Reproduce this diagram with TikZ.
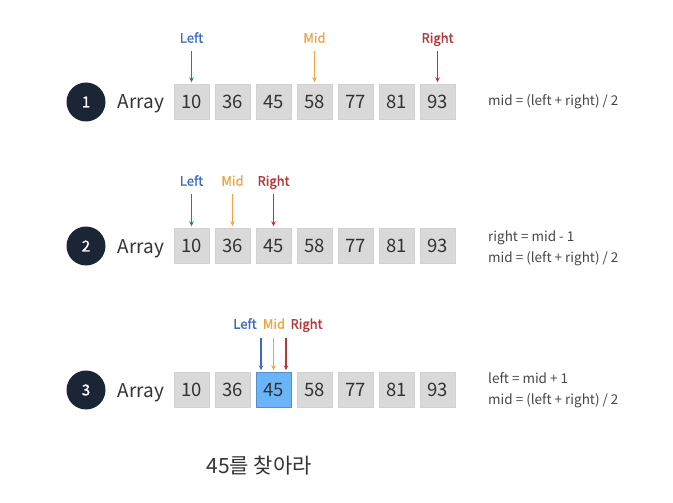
\documentclass[tikz,border=0pt]{standalone}
\usepackage{fontspec}
\setmainfont{Noto Sans CJK KR}
\newfontfamily\semibold{Noto Sans CJK KR}[FakeBold=1.3]
\usetikzlibrary{arrows.meta}
\definecolor{ink}{HTML}{333333}
\definecolor{navy-dot}{HTML}{1C2536}
\definecolor{cell-bg}{HTML}{D9D9D9}
\definecolor{hit-bg}{HTML}{6AB4F8}
\definecolor{ptr-left}{HTML}{3A6CC0}
\definecolor{ptr-mid}{HTML}{F2A444}
\definecolor{ptr-right}{HTML}{B23A3C}

\tikzset{
  numdot/.style={circle, fill=navy-dot, minimum size=39pt, inner sep=0pt,
                 text=white, font=\semibold\fontsize{15}{17}\selectfont},
  arraylbl/.style={text=ink, text height=14pt, text depth=0pt,
                   font=\fontsize{19}{21}\selectfont},
  cell/.style={draw=gray!35, fill=cell-bg, minimum width=35pt, minimum height=35pt,
               inner sep=0pt, text height=13pt, text depth=0pt, text=ink,
               font=\fontsize{18.5}{20}\selectfont},
  hitcell/.style={fill=hit-bg, draw=hit-bg!80!black},
  ptr/.style={inner sep=1pt, text height=9.5pt, text depth=0pt,
              font=\semibold\fontsize{13}{15}\selectfont},
  ptrarrow/.style={line width=1.1pt, -{Stealth[length=5pt,width=4.5pt]}},
  formula/.style={anchor=west, align=left, inner sep=0pt, text=ink!90,
                  font=\fontsize{13.5}{21}\selectfont},
}

\begin{document}
\begin{tikzpicture}[x=1pt, y=-1pt]
    % Diagram: binary search for 45, three steps.
    % Coordinates in px of the 673x503 frame, y grows downwards:
    %   step rows at y=102, 246, 390; cells 35x35, pitch 41, first at x=191.5
    %   pointer labels 64 above the row, arrows from y-50 to y-20
    %   formulas start at x=488
    \useasboundingbox (0,0) rectangle (673,503);

    \foreach \r/\y in {1/102, 2/246, 3/390} {
      \node[numdot] (n\r) at (86,\y) {\r};
      \node[arraylbl] (a\r) at (141,\y) {Array};
      \foreach \v [count=\i] in {10,36,45,58,77,81,93}
        \node[cell] (c\r-\i) at ({191.5+41*(\i-1)},\y) {\v};
    }
    \node[cell, hitcell] (hit) at (c3-3) {45};

    % step 1
    \node[ptr, text=ptr-left] (l1) at (191.5,38) {Left};
    \node[ptr, text=ptr-mid] (m1) at (314.5,38) {Mid};
    \node[ptr, text=ptr-right] (r1) at (437.5,38) {Right};
    \draw[ptrarrow, ptr-left] (l1) -- (c1-1) [shorten <=7pt, shorten >=2pt];
    \draw[ptrarrow, ptr-mid] (m1) -- (c1-4) [shorten <=7pt, shorten >=2pt];
    \draw[ptrarrow, ptr-right] (r1) -- (c1-7) [shorten <=7pt, shorten >=2pt];
    \node[formula] (f1) at (488,102) {mid = (left + right) / 2};

    % step 2
    \node[ptr, text=ptr-left] (l2) at (191.5,181) {Left};
    \node[ptr, text=ptr-mid] (m2) at (232.5,181) {Mid};
    \node[ptr, text=ptr-right] (r2) at (273.5,181) {Right};
    \draw[ptrarrow, ptr-left] (l2) -- (c2-1) [shorten <=7pt, shorten >=2pt];
    \draw[ptrarrow, ptr-mid] (m2) -- (c2-2) [shorten <=7pt, shorten >=2pt];
    \draw[ptrarrow, ptr-right] (r2) -- (c2-3) [shorten <=7pt, shorten >=2pt];
    \node[formula] (f2) at (488,248) {right = mid - 1\\mid = (left + right) / 2};

    % step 3
    \node[ptr, text=ptr-left] (l3) at (245,324) {Left};
    \node[ptr, text=ptr-mid] (m3) at (274,324) {Mid};
    \node[ptr, text=ptr-right] (r3) at (306.5,324) {Right};
    \coordinate (s3l) at (261,338);
    \coordinate (s3m) at (273.5,338);
    \coordinate (s3r) at (286,338);
    \draw[ptrarrow, ptr-left] (s3l) -- (s3l |- hit.north) [shorten >=2pt];
    \draw[ptrarrow, ptr-mid] (s3m) -- (s3m |- hit.north) [shorten >=2pt];
    \draw[ptrarrow, ptr-right] (s3r) -- (s3r |- hit.north) [shorten >=2pt];
    \node[formula] (f3) at (488,390) {left = mid + 1\\mid = (left + right) / 2};

    \node[text=ink, font=\fontsize{21}{23}\selectfont] (goal) at (259,466) {45를 찾아라};
\end{tikzpicture}
\end{document}
